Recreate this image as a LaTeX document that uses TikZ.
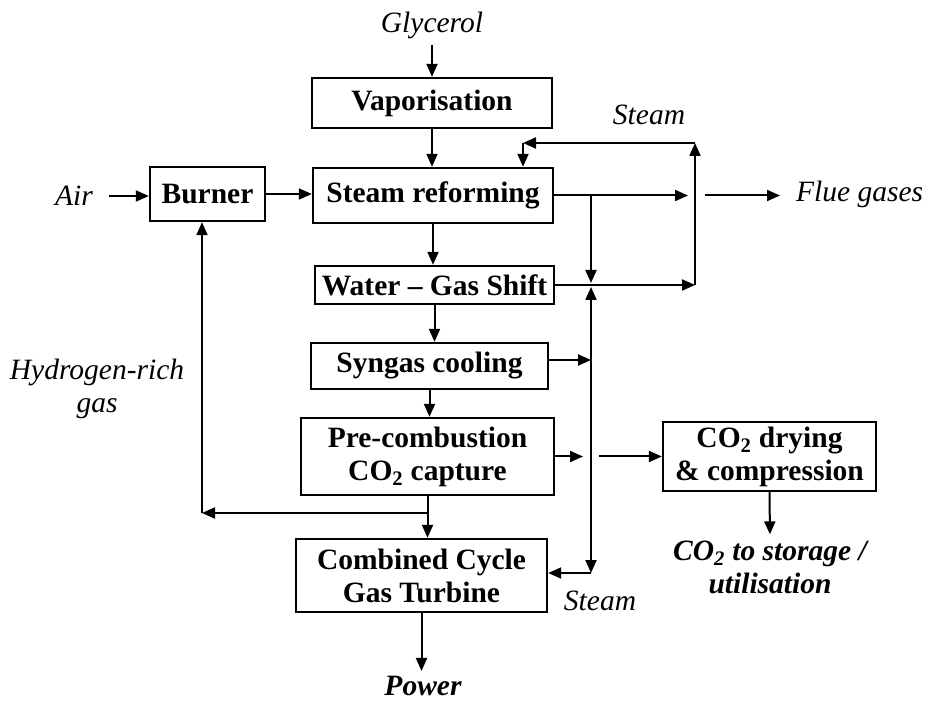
\documentclass[tikz,border=0pt]{standalone}
\usepackage{fontspec}
\setmainfont{Liberation Serif}
\usepackage{tikz}
\usetikzlibrary{arrows.meta}
\usetikzlibrary{calc}
\newcommand{\dfont}{\fontsize{29.5}{33}\selectfont}
\tikzset{
  blk/.style={draw, line width=2.4pt, font=\dfont\bfseries, align=center, inner sep=0pt},
  lbl/.style={font=\dfont\itshape, align=center, inner sep=2pt},
  outl/.style={font=\dfont\bfseries\itshape, align=center, inner sep=2pt},
  flow/.style={line width=2pt, -{Triangle[length=13pt, width=11pt]}},
}
\begin{document}
\begin{tikzpicture}[x=1pt, y=-1pt]

      \useasboundingbox (0,0) rectangle (930,703);

      \node [blk, minimum width=240, minimum height=50] (vap) at (432,103) {Vaporisation};
      \node [blk, minimum width=240, minimum height=55] (sr) at (433,195.5) {Steam reforming};
      \node [blk, minimum width=115, minimum height=54] (burner) at (207.5,194) {Burner};
      \node [blk, minimum width=239, minimum height=38] (wgs) at (434.5,285) {Water -- Gas Shift};
      \node [blk, minimum width=237, minimum height=46] (cool) at (429.5,366) {Syngas cooling};
      \node [blk, minimum width=253, minimum height=77] (pre) at (427.5,456.5) {Pre-combustion\\CO\textsubscript{2} capture};
      \node [blk, minimum width=251, minimum height=73] (ccgt) at (421.5,575.5) {Combined Cycle\\Gas Turbine};
      \node [blk, minimum width=213, minimum height=69] (dry) at (769.5,456.5) {CO\textsubscript{2} drying\\\& compression};

      \node [lbl] (glycerol) at (432,25) {Glycerol};
      \node [lbl] (air) at (74,196) {Air};
      \node [lbl] (steamtop) at (649,115) {Steam};
      \node [lbl, anchor=west] (flue) at (794,194) {Flue gases};
      \node [lbl] (hydrogen) at (97,389) {Hydrogen-rich\\gas};
      \node [lbl] (steambot) at (600,601) {Steam};
      \node [outl] (store) at (770,567) {CO\textsubscript{2} to storage /\\utilisation};
      \node [outl] (power) at (423,686) {Power};

      \coordinate (stx) at (695,143);
      \coordinate (stl) at (523,143);
      \coordinate (wgsR) at (695,285);
      \coordinate (brA) at (591,195.5);
      \coordinate (brB) at (591,285);
      \coordinate (stB) at (591,573);
      \coordinate (srEnd) at (688,195.5);
      \coordinate (flueStart) at (705,195.5);
      \coordinate (preTip) at (583,456.5);
      \coordinate (dryStart) at (599,456.5);
      \coordinate (hBot) at (202,513);

      \draw [flow, shorten <=4pt] (glycerol) -- (vap);
      \draw [flow] (vap.south) -- (vap.south |- sr.north);
      \draw [flow] (sr.south) -- (sr.south |- wgs.north);
      \draw [flow] (wgs.south) -- (wgs.south |- cool.north);
      \draw [flow] (cool.south) -- (cool.south |- pre.north);
      \draw [flow] (pre.south) -- (pre.south |- ccgt.north);
      \draw [flow, shorten >=3pt] (ccgt.south) -- (ccgt.south |- power.north);
      \draw [flow, shorten <=14pt] (air.east) -- (burner.west |- air.east);
      \draw [flow] (burner.east) -- (burner.east -| sr.west);
      \draw [flow] (sr.east) -- (srEnd);
      \draw [flow, shorten >=14pt] (flueStart) -- (flue.west |- flueStart);
      \draw [flow, shorten >=2pt] (brA) -- (brB);
      \draw [flow] (wgs.east) -- (wgsR);
      \draw [flow] (wgsR) -- (stx);
      \draw [flow] (stx) -- (stl);
      \draw [flow] (stl) -- (stl |- sr.north);
      \draw [flow, {Triangle[length=13pt, width=11pt]}-{Triangle[length=13pt, width=11pt]}, shorten <=2pt] (brB) -- (stB);
      \draw [flow] (stB) -- (stB -| ccgt.east);
      \draw [flow] ([yshift=6pt]cool.east) -- ([yshift=6pt]cool.east -| stB);
      \draw [flow] (pre.east) -- (preTip);
      \draw [flow] (dryStart) -- (dry.west);
      \draw [flow, shorten >=4pt] (dry.south) -- (store.north);
      \draw [flow] (pre.south |- hBot) -- (hBot);
      \draw [flow] (hBot) -- (hBot |- burner.south);

    \end{tikzpicture}
\end{document}
